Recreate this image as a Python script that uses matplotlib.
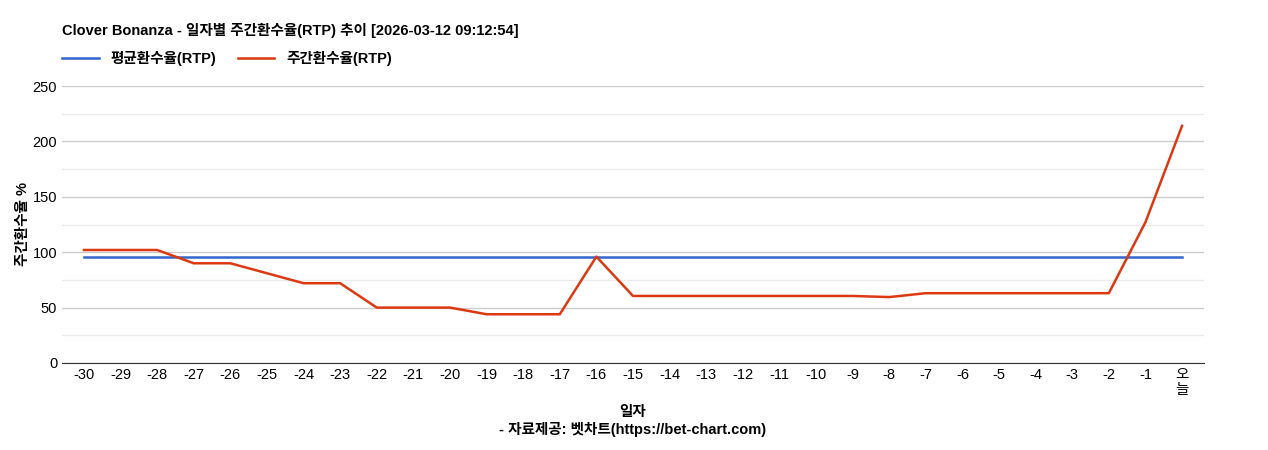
import matplotlib
matplotlib.use("Agg")
import matplotlib.pyplot as plt
from matplotlib.ticker import MultipleLocator

plt.rcParams['font.family'] = ['Liberation Sans', 'Noto Sans CJK KR', 'DejaVu Sans']

days = [str(d) for d in range(-30, 0)] + ["오\n늘"]
weekly = [102, 102, 102, 90, 90, 81, 72, 72, 50, 50, 50, 44, 44, 44, 96, 60.5,
          60.5, 60.5, 60.5, 60.5, 60.5, 60.5, 59.5, 63, 63, 63, 63, 63, 63, 127, 214]
avg = [96] * len(days)

fig = plt.figure(figsize=(12.68, 4.5), dpi=100)
ax = fig.add_axes([62/1268, 87/450, (1204-62)/1268, (363-86)/450])
x = list(range(len(days)))
ax.plot(x, avg, color='#3366cc', lw=1.8, label='평균환수율(RTP)')
ax.plot(x, weekly, color='#dc3912', lw=1.8, label='주간환수율(RTP)')
ax.set_xlim(-0.6, len(days) - 0.4)
ax.set_ylim(0, 250)
ax.yaxis.set_major_locator(MultipleLocator(50))
ax.yaxis.set_minor_locator(MultipleLocator(25))
ax.grid(which='major', axis='y', color='#cccccc', lw=1)
ax.grid(which='minor', axis='y', color='#ebebeb', lw=1)
ax.set_axisbelow(True)
ax.set_xticks(x)
ax.set_xticklabels(days, fontsize=10.5, linespacing=1.1)
ax.tick_params(axis='y', which='both', labelsize=10.5, length=0)
ax.tick_params(axis='x', length=0)
for s in ['top', 'right', 'left']:
    ax.spines[s].set_visible(False)
ax.spines['bottom'].set_color('#333333')
ax.set_ylabel('주간환수율 %', fontsize=10.5, fontweight='bold', labelpad=2)
ax.set_xlabel('일자\n- 자료제공: 벳차트(https://bet-chart.com)', fontsize=10.5, fontweight='bold', labelpad=6)
fig.text(62/1268, 1 - 30/450, 'Clover Bonanza - 일자별 주간환수율(RTP) 추이 [2026-03-12 09:12:54]',
         fontsize=10.5, fontweight='bold', va='center')
ax.legend(loc='lower left', bbox_to_anchor=(-0.005, 1.05), ncol=2, frameon=False,
          prop={'size': 10.5, 'weight': 'bold'}, handlelength=2.5, columnspacing=1.5, borderaxespad=0)
fig.savefig('out.png', dpi=100)
